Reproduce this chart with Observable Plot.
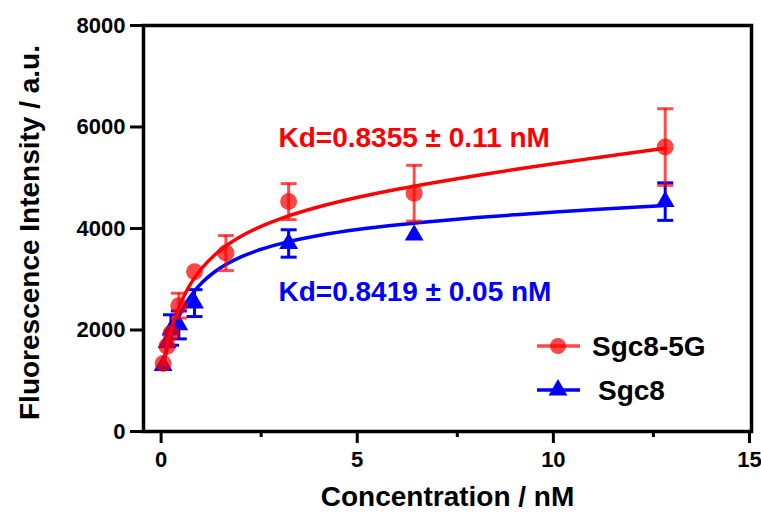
<!DOCTYPE html>
<html>
<head>
<meta charset="utf-8">
<script src="https://cdn.jsdelivr.net/npm/d3@7"></script>
<script src="https://cdn.jsdelivr.net/npm/@observablehq/plot@0.6"></script>
<style>
  html, body { margin: 0; padding: 0; background: #fff; }
  #chart svg { font-family: "Liberation Sans", Arial, sans-serif; font-weight: bold; }
  #chart svg g[aria-label="y-axis tick label"] { font-size: 22px; font-weight: bold; }
  #chart svg g[aria-label="x-axis tick label"] { font-size: 22px; font-weight: bold; }
</style>
</head>
<body>
<div id="chart"></div>
<script>
// ---- data ----
const sgc85gConc = [0, 0.1, 0.2, 0.4, 0.8, 1.6, 3.2, 6.4, 12.8];
const sgc85gMean = [1340, 1680, 1930, 2480, 3150, 3515, 4530, 4695, 5605];
const sgc85gErr  = [0, 0, 0, 245, 0, 345, 355, 550, 755];

const sgc8Conc = [0, 0.1, 0.2, 0.4, 0.8, 3.2, 6.4, 12.8];
const sgc8Mean = [1300, 1750, 2000, 2100, 2530, 3705, 3870, 4530];
const sgc8Err  = [0, 0, 300, 275, 265, 270, 0, 370];

// fitted curves
const fitConc  = [0, 0.1, 0.2, 0.3, 0.4, 0.6, 0.8, 1.0, 1.3, 1.6, 2.0, 2.5, 3.0, 4.0, 5.0, 6.0, 7.0, 8.0, 9.0, 10, 11, 12, 12.8];
const sgc85gFit = [1330, 1694, 1990, 2234, 2442, 2773, 3027, 3229, 3469, 3655, 3851, 4043, 4196, 4433, 4620, 4778, 4917, 5046, 5167, 5281, 5390, 5497, 5580];
const sgc8Fit   = [1300, 1618, 1875, 2088, 2267, 2551, 2768, 2939, 3138, 3289, 3445, 3591, 3703, 3866, 3984, 4074, 4149, 4215, 4272, 4325, 4373, 4418, 4453];

const seriesNames = ["Sgc8-5G", "Sgc8"];
const kdLabels = ["Kd=0.8355 ± 0.11 nM", "Kd=0.8419 ± 0.05 nM"];
const xTicks = [0, 5, 10, 15];
const xMinorTicks = [2.5, 7.5, 12.5];
const yTicks = [0, 2000, 4000, 6000, 8000];
const xTitle = "Concentration / nM";
const yTitle = "Fluorescence Intensity / a.u.";

// ---- tables ----
const red = sgc85gConc.map((c, i) => ({c, v: sgc85gMean[i], e: sgc85gErr[i]}));
const blue = sgc8Conc.map((c, i) => ({c, v: sgc8Mean[i], e: sgc8Err[i]}));
const redFit = fitConc.map((c, i) => ({c, v: sgc85gFit[i]}));
const blueFit = fitConc.map((c, i) => ({c, v: sgc8Fit[i]}));

const RED = "#ff0000", BLUE = "#0000ff";

// horizontal cap symbol
const capSymbol = {
  draw(ctx, size) {
    const r = Math.sqrt(size / Math.PI);
    ctx.moveTo(-r, 0);
    ctx.lineTo(r, 0);
  }
};

function errMarks(data, color, opacity) {
  const d = data.filter(p => p.e > 0);
  return [
    Plot.ruleX(d, {x: "c", y1: p => p.v - p.e, y2: p => p.v + p.e, stroke: color, strokeWidth: 3, strokeOpacity: opacity}),
    Plot.dot(d, {x: "c", y: p => p.v + p.e, symbol: capSymbol, r: 8, stroke: color, strokeWidth: 3, strokeOpacity: opacity, fill: "none"}),
    Plot.dot(d, {x: "c", y: p => p.v - p.e, symbol: capSymbol, r: 8, stroke: color, strokeWidth: 3, strokeOpacity: opacity, fill: "none"})
  ];
}

const chart = Plot.plot({
  width: 761,
  height: 516,
  marginLeft: 143,
  marginRight: 10,
  marginTop: 25,
  marginBottom: 85,
  x: {domain: [-0.5, 15]},
  y: {domain: [0, 8000]},
  marks: [
    // blue series
    ...errMarks(blue, BLUE, 1),
    Plot.line(blueFit, {x: "c", y: "v", stroke: BLUE, strokeWidth: 3.5, curve: "monotone-x"}),
    Plot.dot(blue, {x: "c", y: "v", symbol: "triangle", r: 7, fill: BLUE, stroke: "none"}),
    // red series
    ...errMarks(red, RED, 0.7),
    Plot.dot(red, {x: "c", y: "v", symbol: "circle", r: 8.5, fill: RED, fillOpacity: 0.72, stroke: "none"}),
    Plot.line(redFit, {x: "c", y: "v", stroke: RED, strokeWidth: 3.5, curve: "monotone-x"}),
    // annotations
    Plot.text([kdLabels[0]], {text: d => d, frameAnchor: "top-left", dx: 135, dy: 113, textAnchor: "start", lineAnchor: "middle", fill: RED, fontSize: 28, fontWeight: "bold"}),
    Plot.text([kdLabels[1]], {text: d => d, frameAnchor: "top-left", dx: 135, dy: 267, textAnchor: "start", lineAnchor: "middle", fill: BLUE, fontSize: 28, fontWeight: "bold"}),
    // axes
    Plot.axisY({ticks: yTicks, tickSize: 13, tickPadding: 5, strokeWidth: 3, label: null, tickFormat: d => String(d)}),
    Plot.axisX({ticks: xTicks, tickSize: 12, tickPadding: 8, strokeWidth: 3, dx: -2, label: null, tickFormat: d => String(d)}),
    Plot.axisX({ticks: xMinorTicks, tickSize: 6, strokeWidth: 3, text: null, label: null}),
    Plot.text([xTitle], {text: d => d, frameAnchor: "bottom", dy: 66, textAnchor: "middle", lineAnchor: "middle", fontSize: 28, fontWeight: "bold", fill: "black"}),
    Plot.text([yTitle], {text: d => d, frameAnchor: "left", dx: -113, dy: 4, rotate: -90, textAnchor: "middle", lineAnchor: "middle", fontSize: 28, fontWeight: "bold", fill: "black"}),
    Plot.frame({stroke: "black", strokeWidth: 3.5})
  ]
});

document.getElementById("chart").appendChild(chart);

// legend (pixel layout inside the plot area)
const svg = d3.select(chart);
const lg = svg.append("g").attr("font-size", 28).attr("font-weight", "bold").attr("text-anchor", "start");
const legendRows = [
  {name: seriesNames[0], color: RED, y: 346, sym: "circle", op: 0.72, tx: 592},
  {name: seriesNames[1], color: BLUE, y: 390, sym: "triangle", op: 1, tx: 598}
];
legendRows.forEach(r => {
  lg.append("line").attr("x1", 537).attr("x2", 580).attr("y1", r.y).attr("y2", r.y)
    .attr("stroke", r.color).attr("stroke-width", 3.5).attr("stroke-opacity", r.op);
  const symType = r.sym === "circle" ? d3.symbolCircle : d3.symbolTriangle;
  const size = r.sym === "circle" ? Math.PI * 8 * 8 : Math.PI * 7 * 7;
  lg.append("path").attr("d", d3.symbol(symType, size)()).attr("transform", `translate(558,${r.y})`)
    .attr("fill", r.color).attr("fill-opacity", r.op);
  lg.append("text").attr("x", r.tx).attr("y", r.y).attr("dy", "0.35em").attr("text-anchor", "start").attr("fill", "black").text(r.name);
});
</script>
</body>
</html>
